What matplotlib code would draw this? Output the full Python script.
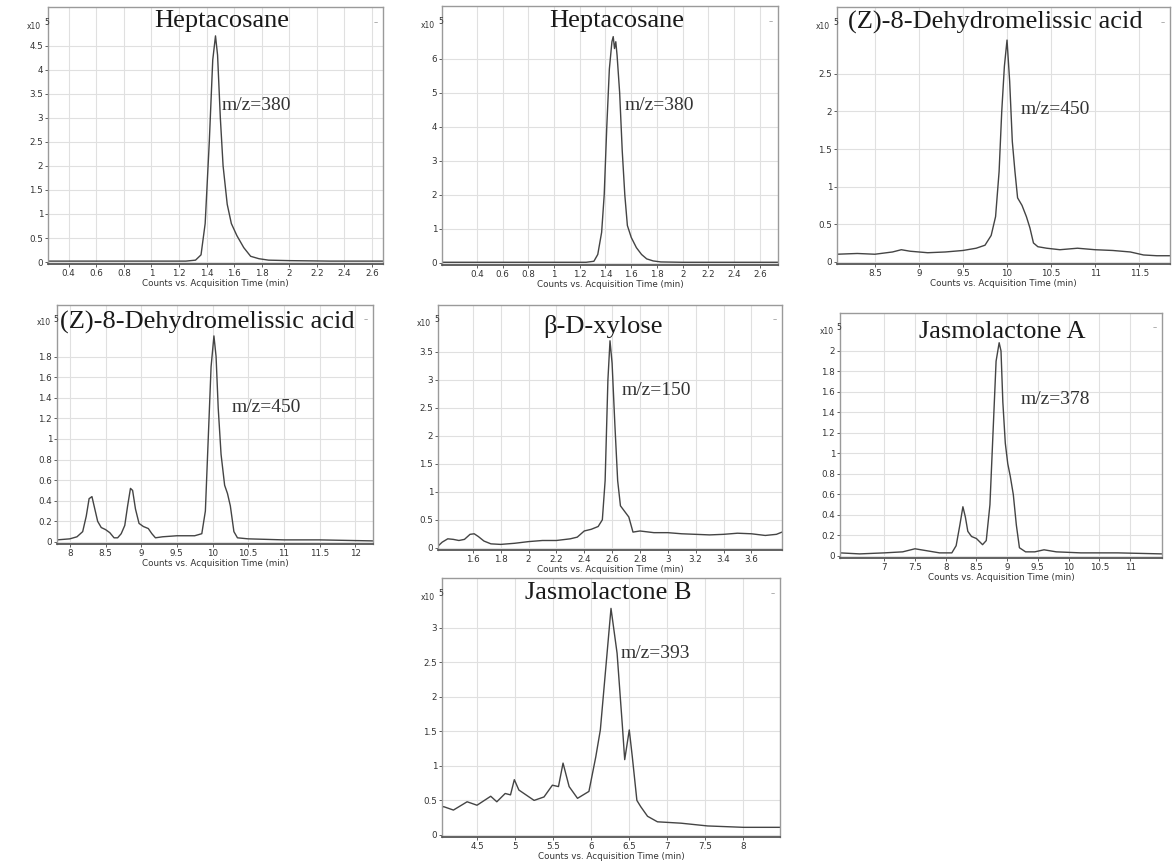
import numpy as np
import matplotlib
matplotlib.use('Agg')
import matplotlib.pyplot as plt
from matplotlib.ticker import FuncFormatter

# chromatogram traces (time in min, counts in x10^5)
t1 = [0.25, 0.6, 1.0, 1.25, 1.32, 1.36, 1.39, 1.42, 1.445, 1.465, 1.48, 1.50,
      1.52, 1.55, 1.58, 1.62, 1.67, 1.72, 1.78, 1.85, 2.0, 2.3, 2.68]
i1 = [0.02, 0.02, 0.02, 0.02, 0.04, 0.15, 0.8, 2.5, 4.2, 4.7, 4.3, 3.0,
      2.0, 1.2, 0.8, 0.55, 0.3, 0.12, 0.07, 0.04, 0.03, 0.02, 0.02]

t2 = [0.13, 0.5, 1.0, 1.25, 1.31, 1.34, 1.37, 1.39, 1.41, 1.43, 1.45, 1.46, 1.47,
      1.48, 1.49, 1.51, 1.53, 1.55, 1.57, 1.60, 1.64, 1.68, 1.72, 1.77, 1.83, 2.0,
      2.4, 2.74]
i2 = [0.02, 0.02, 0.02, 0.02, 0.05, 0.25, 0.9, 2.0, 4.0, 5.7, 6.5, 6.65, 6.3,
      6.5, 6.1, 5.0, 3.3, 2.0, 1.1, 0.75, 0.45, 0.25, 0.12, 0.06, 0.03, 0.02,
      0.02, 0.02]

t3 = [8.07, 8.3, 8.5, 8.7, 8.8, 8.9, 9.1, 9.3, 9.5, 9.65, 9.75, 9.82, 9.87, 9.91,
      9.94, 9.97, 10.0, 10.03, 10.06, 10.09, 10.12, 10.17, 10.22, 10.26, 10.3,
      10.35, 10.45, 10.6, 10.8, 11.0, 11.2, 11.4, 11.55, 11.7, 11.85]
i3 = [0.1, 0.11, 0.1, 0.13, 0.16, 0.14, 0.12, 0.13, 0.15, 0.18, 0.22, 0.35, 0.6,
      1.2, 2.0, 2.6, 2.95, 2.4, 1.6, 1.2, 0.85, 0.75, 0.6, 0.45, 0.25,
      0.2, 0.18, 0.16, 0.18, 0.16, 0.15, 0.13, 0.09, 0.08, 0.08]

t4 = [7.82, 8.0, 8.1, 8.18, 8.23, 8.27, 8.31, 8.35, 8.39, 8.44, 8.5, 8.56, 8.62,
      8.67, 8.72, 8.77, 8.81, 8.85, 8.88, 8.92, 8.97, 9.03, 9.1, 9.15, 9.2, 9.3,
      9.5, 9.75, 9.85, 9.9, 9.94, 9.98, 10.02, 10.05, 10.08, 10.12, 10.17, 10.21,
      10.25, 10.3, 10.35, 10.5, 11.0, 11.5, 12.25]
i4 = [0.02, 0.03, 0.05, 0.1, 0.25, 0.42, 0.44, 0.32, 0.2, 0.14, 0.12, 0.09, 0.04,
      0.04, 0.08, 0.16, 0.35, 0.52, 0.5, 0.32, 0.18, 0.15, 0.13, 0.08, 0.04, 0.05,
      0.06, 0.06, 0.08, 0.3, 1.0, 1.7, 2.0, 1.8, 1.3, 0.85, 0.55, 0.47,
      0.35, 0.1, 0.04, 0.03, 0.02, 0.02, 0.01]

t5 = [1.35, 1.38, 1.42, 1.46, 1.5, 1.54, 1.58, 1.61, 1.64, 1.68, 1.73, 1.8, 1.9,
      2.0, 2.1, 2.2, 2.3, 2.35, 2.4, 2.45, 2.5, 2.53, 2.55, 2.57, 2.585, 2.6,
      2.62, 2.64, 2.66, 2.69, 2.72, 2.75, 2.8, 2.9, 3.0, 3.1, 3.2, 3.3, 3.4, 3.5,
      3.6, 3.7, 3.78, 3.82]
i5 = [0.03, 0.1, 0.16, 0.15, 0.13, 0.15, 0.24, 0.25, 0.2, 0.12, 0.07, 0.06, 0.08,
      0.11, 0.13, 0.13, 0.16, 0.19, 0.3, 0.33, 0.38, 0.5, 1.2, 3.0, 3.7, 3.3,
      2.2, 1.2, 0.75, 0.65, 0.55, 0.28, 0.3, 0.27, 0.27, 0.25, 0.24, 0.23, 0.24,
      0.26, 0.25, 0.22, 0.24, 0.28]

t6 = [6.28, 6.6, 7.0, 7.3, 7.5, 7.7, 7.9, 8.1, 8.17, 8.23, 8.28, 8.32, 8.36, 8.42,
      8.5, 8.6, 8.66, 8.72, 8.77, 8.82, 8.87, 8.9, 8.93, 8.97, 9.01, 9.05, 9.1,
      9.15, 9.2, 9.3, 9.45, 9.6, 9.8, 10.2, 10.8, 11.52]
i6 = [0.03, 0.02, 0.03, 0.04, 0.07, 0.05, 0.03, 0.03, 0.1, 0.3, 0.48, 0.38, 0.24,
      0.19, 0.17, 0.11, 0.15, 0.5, 1.2, 1.9, 2.08, 2.0, 1.5, 1.1, 0.9, 0.78, 0.6,
      0.3, 0.08, 0.04, 0.04, 0.06, 0.04, 0.03, 0.03, 0.02]

t7 = [4.04, 4.06, 4.19, 4.37, 4.5, 4.68, 4.76, 4.87, 4.94, 4.99, 5.05, 5.25, 5.38,
      5.49, 5.57, 5.63, 5.71, 5.82, 5.97, 6.06, 6.12, 6.19, 6.26, 6.34, 6.41,
      6.44, 6.5, 6.54, 6.6, 6.65, 6.74, 6.87, 7.18, 7.53, 8.0, 8.48]
i7 = [0.4, 0.41, 0.36, 0.48, 0.43, 0.56, 0.48, 0.6, 0.58, 0.8, 0.65, 0.5, 0.55,
      0.72, 0.7, 1.04, 0.7, 0.53, 0.63, 1.13, 1.52, 2.4, 3.28, 2.63, 1.57,
      1.09, 1.52, 1.13, 0.5, 0.41, 0.27, 0.19, 0.17, 0.13, 0.11, 0.11]

titles = ['Heptacosane', 'Heptacosane', '(Z)-8-Dehydromelissic acid',
          '(Z)-8-Dehydromelissic acid', 'β-D-xylose', 'Jasmolactone A',
          'Jasmolactone B']
mz_labels = ['m/z=380', 'm/z=380', 'm/z=450', 'm/z=450', 'm/z=150',
             'm/z=378', 'm/z=393']
times = [t1, t2, t3, t4, t5, t6, t7]
counts = [i1, i2, i3, i4, i5, i6, i7]

W, H = 1174, 861
# frame (left, top, right, bottom) in pixels, axis limits, tick steps
frames = [(48, 7, 383, 264), (442, 6, 778, 265), (837, 7, 1170, 264),
          (57, 305, 373, 544), (438, 305, 782, 550), (840, 313, 1162, 558),
          (442, 578, 780, 837)]
xlims = [(0.25, 2.68), (0.13, 2.74), (8.07, 11.85), (7.82, 12.25),
         (1.35, 3.82), (6.28, 11.52), (4.04, 8.48)]
ylims = [(-0.04, 5.3), (-0.06, 7.55), (-0.03, 3.39), (-0.02, 2.3),
         (-0.04, 4.34), (-0.02, 2.37), (-0.03, 3.72)]
xticks = [np.arange(0.4, 2.61, 0.2), np.arange(0.4, 2.61, 0.2),
          np.arange(8.5, 11.51, 0.5), np.arange(8, 12.01, 0.5),
          np.arange(1.6, 3.61, 0.2), np.arange(7, 11.01, 0.5),
          np.arange(4.5, 8.01, 0.5)]
yticks = [np.arange(0, 4.51, 0.5), np.arange(0, 6.01, 1),
          np.arange(0, 2.51, 0.5), np.arange(0, 1.81, 0.2),
          np.arange(0, 3.51, 0.5), np.arange(0, 2.01, 0.2),
          np.arange(0, 3.01, 0.5)]
title_pos = [(222, 21), (617, 21), (995, 22), (207, 322), (603, 327),
             (1002, 332), (608, 593)]
mz_pos = [(222, 105), (625, 105), (1021, 110), (232, 408), (622, 390),
          (1021, 399), (621, 653)]

fig = plt.figure(figsize=(W / 100, H / 100), dpi=100)
fmt = FuncFormatter(lambda v, p: '%g' % round(v, 2))

for k in range(7):
    l, t, r, b = frames[k]
    ax = fig.add_axes([l / W, 1 - b / H, (r - l) / W, (b - t) / H])
    ax.plot(times[k], counts[k], color='#444444', linewidth=1.0)
    ax.set_xlim(*xlims[k])
    ax.set_ylim(*ylims[k])
    ax.set_xticks(xticks[k])
    ax.set_yticks(yticks[k])
    ax.xaxis.set_major_formatter(fmt)
    ax.yaxis.set_major_formatter(fmt)
    ax.grid(color='#e0e0e0', linewidth=0.8)
    ax.set_axisbelow(True)
    ax.tick_params(labelsize=6.3, length=2, width=0.6, pad=1.5,
                   colors='#444444', labelcolor='#333333')
    for side in ['top', 'right', 'left']:
        ax.spines[side].set_color('#9a9a9a')
        ax.spines[side].set_linewidth(1.0)
    ax.spines['bottom'].set_color('#555555')
    ax.spines['bottom'].set_linewidth(1.3)
    ax.set_xlabel('Counts vs. Acquisition Time (min)', fontsize=6.3,
                  color='#333333', labelpad=0.5)

    # text placed by pixel position of the reference
    tx, ty = title_pos[k]
    fig.text(tx / W, 1 - ty / H, titles[k], ha='center', va='center',
             fontsize=19, family='Liberation Serif', color='#1a1a1a')
    mx, my = mz_pos[k]
    fig.text(mx / W, 1 - my / H, mz_labels[k], ha='left', va='center',
             fontsize=14, family='Liberation Serif', color='#333333')
    ax.text(-0.02, 0.925, 'x10', transform=ax.transAxes,
            ha='right', va='center', fontsize=5.5, color='#333333')
    ax.text(-0.012, 0.94, '5', transform=ax.transAxes, ha='left',
            va='center', fontsize=5.5, color='#333333')
    ax.text(0.985, 0.94, '–', transform=ax.transAxes, ha='right',
            va='center', fontsize=6, color='#999999')

fig.savefig('out.png', dpi=100, facecolor='white')
